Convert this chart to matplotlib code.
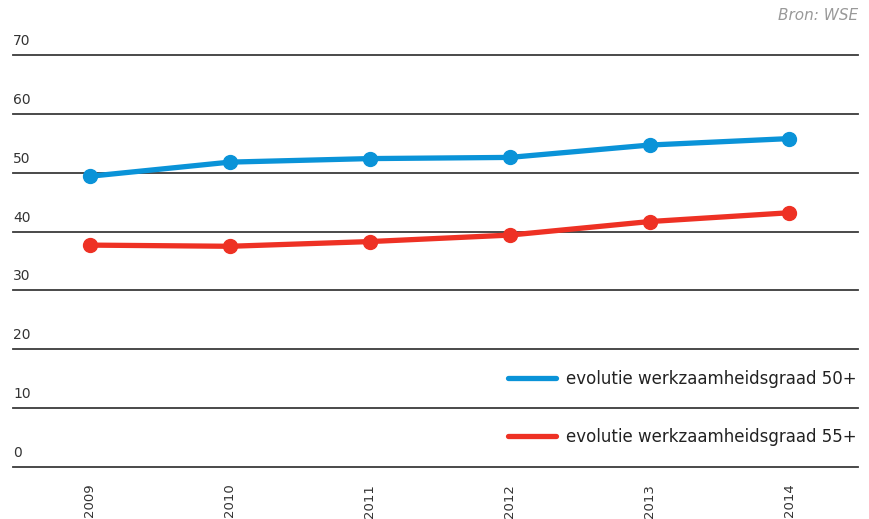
import matplotlib.pyplot as plt
from matplotlib.transforms import blended_transform_factory

# Data
jaren = ['2009', '2010', '2011', '2012', '2013', '2014']
graad_50 = [49.4, 51.8, 52.4, 52.6, 54.7, 55.8]
graad_55 = [37.7, 37.5, 38.3, 39.4, 41.7, 43.2]
y_ticks = [0, 10, 20, 30, 40, 50, 60, 70]

blauw = '#0a93d8'
rood = '#ee3124'

fig = plt.figure(figsize=(8.7, 5.19), dpi=100)
ax = fig.add_axes([13 / 870, 1 - 467 / 519, 845 / 870, 412 / 519])

x = list(range(len(jaren)))
ax.plot(x, graad_50, color=blauw, lw=3.8, marker='o', markersize=10,
        solid_capstyle='round', label='evolutie werkzaamheidsgraad 50+', zorder=3)
ax.plot(x, graad_55, color=rood, lw=3.8, marker='o', markersize=10,
        solid_capstyle='round', label='evolutie werkzaamheidsgraad 55+', zorder=3)

ax.set_xlim(-0.55, 5.49)
ax.set_ylim(0, 70)

# horizontale rasterlijnen met label erboven
trans = blended_transform_factory(ax.transAxes, ax.transData)
for v in y_ticks:
    ax.axhline(v, color='#3a3a3a', lw=1.3, zorder=1, clip_on=False)
    ax.text(0, v + 1.2, str(v), transform=trans, ha='left', va='bottom',
            fontsize=10, color='#333333')

ax.set_yticks([])
ax.set_xticks(x)
ax.set_xticklabels(jaren, rotation=90, fontsize=9.5, color='#333333')
ax.tick_params(axis='x', length=0, pad=12)
for s in ax.spines.values():
    s.set_visible(False)

leg = ax.legend(loc='upper left', bbox_to_anchor=(508 / 870, 1 - 370 / 519),
                bbox_transform=fig.transFigure, frameon=False, fontsize=12,
                handlelength=2.9, handletextpad=0.55, labelspacing=2.4,
                borderpad=0, borderaxespad=0)
for h in leg.get_lines():
    h.set_marker('')
for t in leg.get_texts():
    t.set_color('#222222')

fig.text(858 / 870, 1 - 15 / 519, 'Bron: WSE', ha='right', va='center',
         fontsize=11, style='italic', color='#999999')

fig.savefig('out.png', dpi=100)
